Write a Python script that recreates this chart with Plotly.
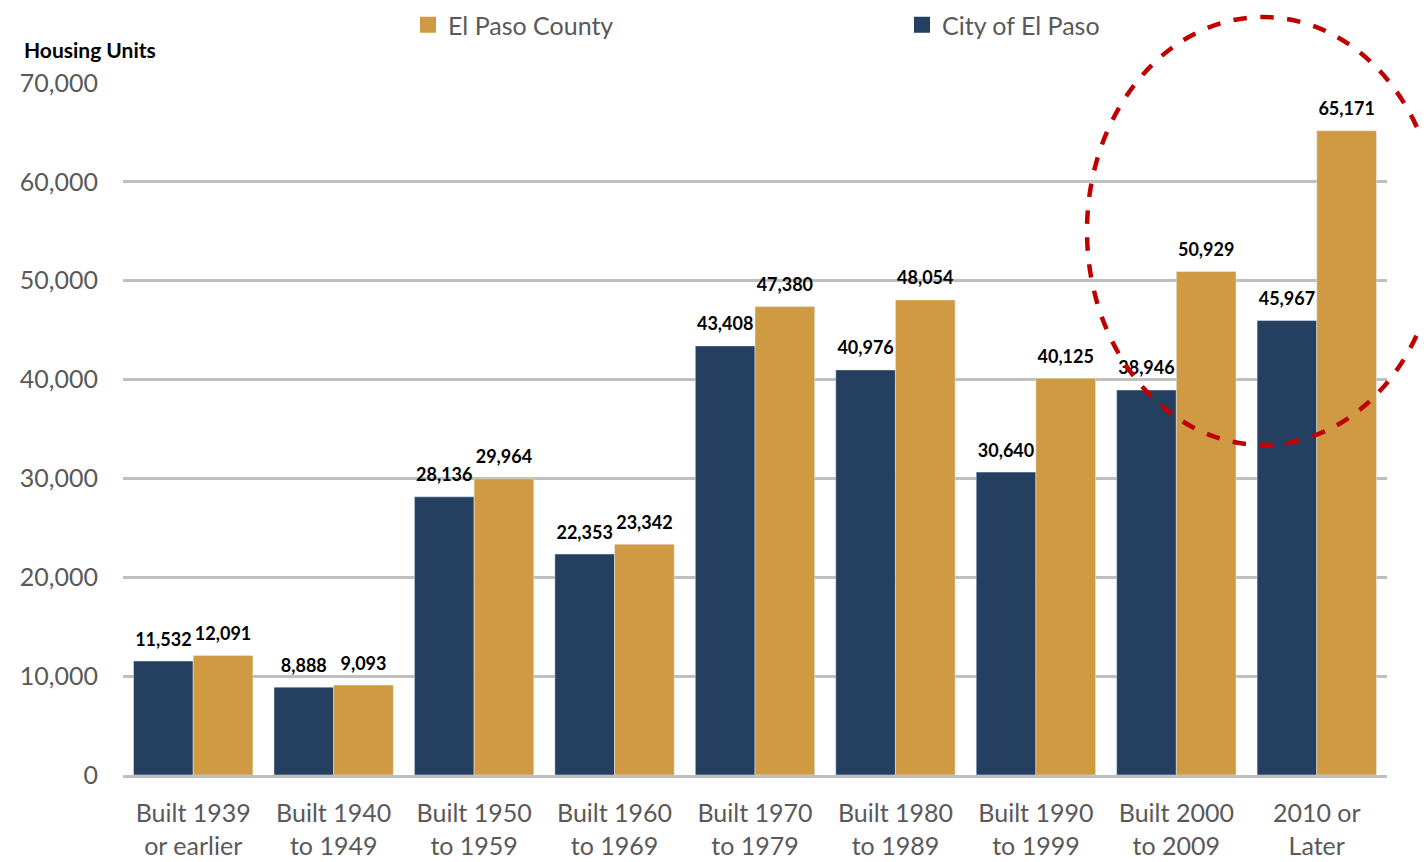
import plotly.graph_objects as go

categories = ["Built 1939<br>or earlier", "Built 1940<br>to 1949", "Built 1950<br>to 1959",
              "Built 1960<br>to 1969", "Built 1970<br>to 1979", "Built 1980<br>to 1989",
              "Built 1990<br>to 1999", "Built 2000<br>to 2009", "2010 or<br>Later"]
city = [11532, 8888, 28136, 22353, 43408, 40976, 30640, 38946, 45967]
county = [12091, 9093, 29964, 23342, 47380, 48054, 40125, 50929, 65171]

NAVY = "#243F60"
GOLD = "#D09A43"
FONT = "Lato, 'Open Sans', sans-serif"

# page is rendered with an 8px body margin; work in page coordinates
OFF = 8
W, H = 1427, 862
PL, PT, PR, PB = 123, 83, 1387, 775  # plot area in page pixels
L = PL - OFF
T = PT - OFF
PW = PR - PL
PH = PB - PT
R = W - L - PW
B = H - T - PH


def px(xp):
    return (xp - PL) / PW


def py(yp):
    return (PB - yp) / PH


label_font = dict(family=FONT, size=18, color="#000000", weight="bold")

fig = go.Figure()
series = [("City of El Paso", city, NAVY, "city"), ("El Paso County", county, GOLD, "county")]
for name, vals, color, grp in series:
    fig.add_trace(go.Bar(
        name=name, x=categories, y=vals, marker_color=color,
        showlegend=False, offsetgroup=grp, alignmentgroup="a",
    ))
# value labels, grouped like the bars
for name, vals, color, grp in series:
    fig.add_trace(go.Scatter(
        x=categories, y=vals, mode="markers+text",
        text=[f"{v:,}" for v in vals], textposition="top center",
        textfont=label_font, marker=dict(size=16, opacity=0),
        offsetgroup=grp, alignmentgroup="a",
        cliponaxis=False, showlegend=False, hoverinfo="skip",
    ))
# legend keys (square swatches)
fig.add_trace(go.Scatter(
    name="El Paso County", x=[None], y=[None], mode="markers",
    marker=dict(symbol="square", size=16, color=GOLD), legend="legend",
))
fig.add_trace(go.Scatter(
    name="City of El Paso", x=[None], y=[None], mode="markers",
    marker=dict(symbol="square", size=16, color=NAVY), legend="legend2",
))

leg_common = dict(
    orientation="v", xanchor="left", yanchor="middle",
    font=dict(family=FONT, size=25, color="#595959"),
    bgcolor="rgba(0,0,0,0)", borderwidth=0, itemsizing="trace",
)

fig.update_layout(
    width=W, height=H,
    margin=dict(l=L, r=R, t=T, b=B, autoexpand=False),
    paper_bgcolor="white", plot_bgcolor="white",
    barmode="group", bargap=0.15, bargroupgap=0,
    scattermode="group", scattergap=0.15,
    font=dict(family=FONT, color="#595959", size=25),
    showlegend=True,
    legend=dict(x=px(408), y=py(25), **leg_common),
    legend2=dict(x=px(902), y=py(25), **leg_common),
    xaxis=dict(
        showgrid=False, showline=True, linecolor="#BFBFBF", linewidth=3,
        ticks="", tickfont=dict(family=FONT, size=25, color="#595959"),
        ticklabelstandoff=14,
    ),
    yaxis=dict(
        range=[0, 70000], tickvals=[0, 10000, 20000, 30000, 40000, 50000, 60000, 70000],
        tickformat=",", showgrid=True, gridcolor="#BFBFBF", gridwidth=3,
        zeroline=False, showline=False, ticks="",
        tickfont=dict(family=FONT, size=25, color="#595959"),
        ticklabelstandoff=24,
    ),
    annotations=[dict(
        text="<b>Housing Units</b>", xref="paper", yref="paper",
        x=px(22), y=py(49), xanchor="left", yanchor="middle",
        showarrow=False, font=dict(family=FONT, size=21, color="#000000"),
    )],
    shapes=[dict(
        type="circle", xref="paper", yref="paper",
        x0=px(1087), x1=px(1439), y0=py(445), y1=py(17),
        line=dict(color="#C00000", width=4.5, dash="dash"),
        fillcolor="rgba(0,0,0,0)", layer="above",
    )],
)

fig.write_html("out.html")
